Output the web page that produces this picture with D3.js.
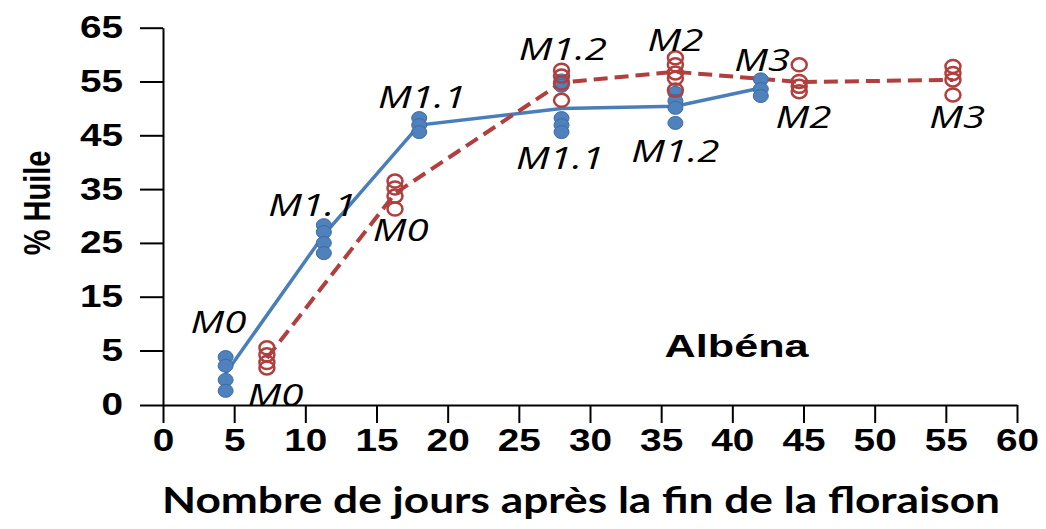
<!DOCTYPE html>
<html>
<head>
<meta charset="utf-8">
<script src="https://cdnjs.cloudflare.com/ajax/libs/d3/7.8.5/d3.min.js"></script>
<style>
  body { margin: 0; background: #fff; }
  svg { display: block; }
  .axis path, .axis line { stroke: #000; stroke-width: 2px; }
  .axis text { font-family: "Liberation Sans", Arial, sans-serif; font-weight: bold; font-size: 31px; fill: #000; }
</style>
</head>
<body>
<div id="chart"></div>
<script>
// days after end of flowering, replicates and means (% oil)
const blueDays = [4.4, 11.3, 18, 28, 36, 42];
const blueReps = [
  [4.4, 3.6, 2.3, 1.3],
  [28.3, 27.0, 25.0, 23.1],
  [48.2, 46.9, 45.6],
  [55.2, 54.2, 48.2, 46.9, 45.6],
  [52.9, 51.4, 50.1, 47.3],
  [55.4, 53.6, 52.3]
];
const blueMean = [2.9, 26.5, 46.9, 50.0, 50.4, 53.8];

const redDays = [7.3, 16.3, 28, 36, 44.7, 55.5];
const redReps = [
  [5.5, 4.6, 3.9, 3.4],
  [36.5, 35.2, 33.7, 31.3],
  [57.1, 56.0, 54.7, 51.5],
  [59.4, 58.1, 56.6, 55.6, 53.4],
  [58.1, 55.0, 54.1, 53.1],
  [57.8, 56.5, 55.3, 52.5]
];
const redMean = [4.3, 34.2, 54.8, 56.8, 54.9, 55.3];

// stage labels: text, day, % oil
const labelText = ["M0", "M0", "M1.1", "M0", "M1.1", "M1.2", "M1.1", "M2", "M1.2", "M3", "M2", "M3"];
const labelDay  = [3.9, 7.9, 10.5, 16.7, 18.2, 28.1, 27.9, 36.0, 36.0, 42.1, 45.0, 55.8];
const labelVal  = [10.3, 0.9, 32.0, 27.4, 52.1, 61.0, 40.8, 62.7, 42.2, 59.0, 48.4, 48.4];

const xTicks = [0, 5, 10, 15, 20, 25, 30, 35, 40, 45, 50, 55, 60];
const yTicks = [0, 5, 15, 25, 35, 45, 55, 65];

const W = 1046, H = 529;
const blue = "#4a7ebb", blueFill = "#4f81bd", red = "#b03f3d";

const svg = d3.select("#chart").append("svg").attr("width", W).attr("height", H);

const x = d3.scaleLinear().domain([0, 60]).range([163, 1017]);
// the 0-5 step gets the same room as a 10 step, as in the original
const y = d3.scaleLinear().domain([0, 5, 65]).range([405, 350.5, 27.7]);

function stretch(sel, k) {
  sel.each(function() {
    const len = this.getComputedTextLength();
    d3.select(this).attr("textLength", len * k).attr("lengthAdjust", "spacingAndGlyphs");
  });
}

const gx = svg.append("g").attr("class", "axis")
  .attr("transform", "translate(0,405)")
  .call(d3.axisBottom(x).tickValues(xTicks).tickSize(18).tickSizeOuter(0).tickPadding(6));
gx.selectAll("text").call(stretch, 1.25);

const gy = svg.append("g").attr("class", "axis")
  .attr("transform", "translate(163,0)")
  .call(d3.axisLeft(y).tickValues(yTicks).tickSize(23).tickSizeOuter(0).tickPadding(17));
gy.selectAll("text").call(stretch, 1.25);

// lines
const line = d3.line().x(d => x(d[0])).y(d => y(d[1]));
svg.append("path").datum(d3.zip(blueDays, blueMean))
  .attr("d", line).attr("fill", "none").attr("stroke", blue).attr("stroke-width", 3.5);
svg.append("path").datum(d3.zip(redDays, redMean))
  .attr("d", line).attr("fill", "none").attr("stroke", red).attr("stroke-width", 4)
  .attr("stroke-dasharray", "14,7");

// replicate points
const bluePts = blueDays.flatMap((d, i) => blueReps[i].map(v => [d, v]));
const redPts = redDays.flatMap((d, i) => redReps[i].map(v => [d, v]));

svg.append("g").selectAll("ellipse").data(bluePts).join("ellipse")
  .attr("cx", d => x(d[0])).attr("cy", d => y(d[1])).attr("rx", 7.5).attr("ry", 6.5)
  .attr("fill", blueFill).attr("stroke", "#3c6aa5").attr("stroke-width", 1);

svg.append("g").selectAll("ellipse").data(redPts).join("ellipse")
  .attr("cx", d => x(d[0])).attr("cy", d => y(d[1])).attr("rx", 7.5).attr("ry", 6.5)
  .attr("fill", "none").attr("stroke", red).attr("stroke-width", 2.5);

// stage labels
svg.append("g").selectAll("text").data(labelText).join("text")
  .attr("transform", (d, i) => `translate(${x(labelDay[i])},${y(labelVal[i])}) scale(1.3,1)`)
  .attr("text-anchor", "middle").attr("dy", "0.36em")
  .style("font-family", "'Open Sans', sans-serif").style("font-style", "italic")
  .style("font-size", "31px").attr("fill", "#000")
  .text(d => d);

// variety name
svg.append("text")
  .attr("transform", `translate(${x(40.3)},${y(6.0)}) scale(1.35,1)`)
  .attr("text-anchor", "middle").attr("dy", "0.36em")
  .style("font-family", "'Liberation Sans', Arial, sans-serif").style("font-weight", "bold")
  .style("font-size", "32px").text("Albéna");

// axis titles
svg.append("text")
  .attr("transform", "translate(37,203) scale(1.25,1) rotate(-90)")
  .attr("text-anchor", "middle").attr("dy", "0.36em")
  .style("font-family", "'Liberation Sans', Arial, sans-serif").style("font-weight", "bold")
  .style("font-size", "29px").text("% Huile");

svg.append("text")
  .attr("x", 581).attr("y", 513)
  .attr("text-anchor", "middle")
  .attr("textLength", 838).attr("lengthAdjust", "spacingAndGlyphs")
  .style("font-family", "Lato, sans-serif").style("font-weight", "bold")
  .style("font-size", "37px").text("Nombre de jours après la fin de la floraison");
</script>
</body>
</html>
